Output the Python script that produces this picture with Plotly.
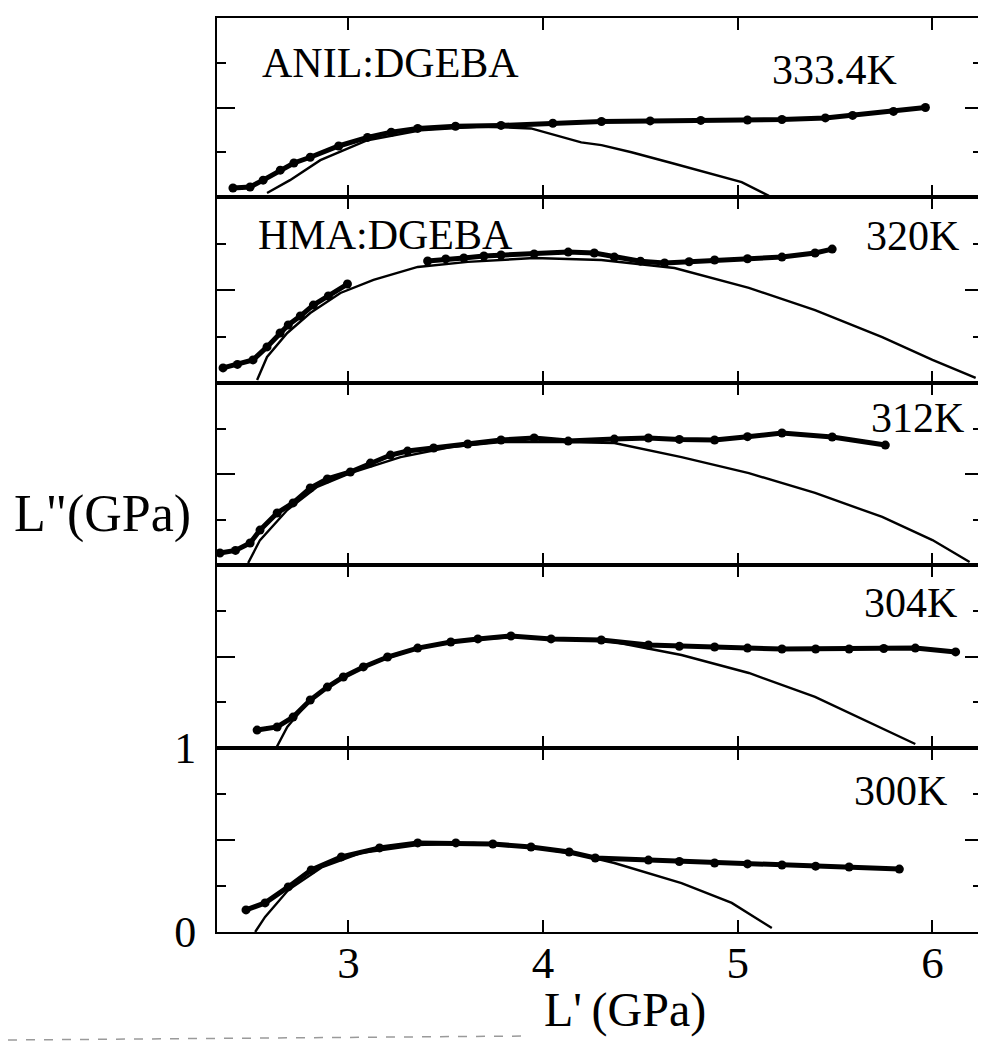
import plotly.graph_objects as go
from plotly.subplots import make_subplots

# ---------------- data ----------------
panel_labels = ["333.4K", "320K", "312K", "304K", "300K"]
system_labels = ["ANIL:DGEBA", "HMA:DGEBA", "", "", ""]

# 333.4K  (ANIL:DGEBA)
d333_x = [2.407, 2.495, 2.562, 2.65, 2.72, 2.804, 2.95, 3.098, 3.22, 3.356, 3.55, 3.784, 4.05, 4.30, 4.55, 4.81, 5.05, 5.227, 5.45, 5.59, 5.80, 5.964]
d333_y = [0.050, 0.056, 0.094, 0.150, 0.190, 0.222, 0.285, 0.333, 0.362, 0.383, 0.395, 0.400, 0.412, 0.422, 0.425, 0.428, 0.430, 0.433, 0.442, 0.456, 0.478, 0.500]
f333_x = [2.582, 2.70, 2.856, 3.098, 3.371, 3.68, 3.938, 4.196, 4.30, 4.454, 4.66, 5.02, 5.16]
f333_y = [0.022, 0.094, 0.206, 0.317, 0.372, 0.394, 0.383, 0.305, 0.290, 0.250, 0.190, 0.083, 0.006]

# 320K  (HMA:DGEBA)
d320_x = [2.356, 2.43, 2.510, 2.582, 2.649, 2.691, 2.753, 2.820, 2.897, 2.995, None, 3.407, 3.50, 3.593, 3.696, 3.784, 3.954, 4.129, 4.263, 4.366, 4.50, 4.624, 4.75, 4.881, 5.05, 5.227, 5.397, 5.485]
d320_y = [0.081, 0.100, 0.124, 0.194, 0.269, 0.312, 0.360, 0.419, 0.468, 0.532, None, 0.656, 0.667, 0.672, 0.683, 0.688, 0.694, 0.704, 0.699, 0.677, 0.655, 0.645, 0.652, 0.661, 0.668, 0.677, 0.699, 0.720]
f320_x = [2.531, 2.582, 2.686, 2.804, 2.959, 3.129, 3.356, 3.613, 3.954, 4.299, 4.675, 5.057, 5.397, 5.742, 6.0, 6.222]
f320_y = [0.016, 0.140, 0.269, 0.376, 0.484, 0.554, 0.624, 0.651, 0.672, 0.661, 0.618, 0.511, 0.392, 0.247, 0.124, 0.027]

# 312K
d312_x = [2.34, 2.42, 2.495, 2.546, 2.634, 2.716, 2.804, 2.892, 3.01, 3.113, 3.216, 3.304, 3.438, 3.613, 3.784, 3.954, 4.129, 4.366, 4.541, 4.70, 4.881, 5.05, 5.227, 5.485, 5.758]
d312_y = [0.066, 0.080, 0.121, 0.192, 0.286, 0.341, 0.423, 0.473, 0.511, 0.560, 0.604, 0.626, 0.643, 0.665, 0.687, 0.698, 0.681, 0.692, 0.698, 0.690, 0.687, 0.705, 0.725, 0.703, 0.659]
f312_x = [2.485, 2.546, 2.686, 2.840, 3.01, 3.268, 3.526, 3.784, 4.129, 4.366, 4.711, 5.057, 5.397, 5.742, 6.0, 6.191]
f312_y = [0.011, 0.137, 0.302, 0.429, 0.505, 0.593, 0.648, 0.676, 0.676, 0.670, 0.593, 0.505, 0.396, 0.264, 0.137, 0.016]

# 304K
d304_x = [2.531, 2.634, 2.716, 2.804, 2.892, 2.974, 3.077, 3.201, 3.356, 3.526, 3.665, 3.835, 4.041, 4.299, 4.541, 4.70, 4.881, 5.05, 5.227, 5.40, 5.572, 5.75, 5.912, 6.119]
d304_y = [0.098, 0.115, 0.169, 0.262, 0.333, 0.388, 0.443, 0.497, 0.546, 0.579, 0.596, 0.612, 0.596, 0.590, 0.563, 0.556, 0.552, 0.546, 0.541, 0.541, 0.541, 0.544, 0.546, 0.525]
f304_x = [2.629, 2.686, 2.789, 2.923, 3.098, 3.356, 3.613, 3.871, 4.129, 4.366, 4.711, 5.057, 5.397, 5.742, 5.912]
f304_y = [0.000, 0.115, 0.246, 0.355, 0.454, 0.546, 0.590, 0.607, 0.596, 0.579, 0.508, 0.410, 0.279, 0.109, 0.022]

# 300K
d300_x = [2.474, 2.572, 2.691, 2.809, 2.964, 3.160, 3.356, 3.552, 3.742, 3.938, 4.134, 4.268, 4.541, 4.70, 4.881, 5.05, 5.227, 5.40, 5.572, 5.830]
d300_y = [0.120, 0.158, 0.245, 0.337, 0.408, 0.457, 0.484, 0.484, 0.478, 0.462, 0.435, 0.402, 0.391, 0.383, 0.375, 0.370, 0.364, 0.358, 0.353, 0.342]
f300_x = [2.521, 2.572, 2.691, 2.866, 3.062, 3.356, 3.644, 3.938, 4.196, 4.366, 4.711, 4.969, 5.175]
f300_y = [0.000, 0.082, 0.228, 0.353, 0.429, 0.473, 0.484, 0.462, 0.418, 0.375, 0.266, 0.158, 0.022]

data_x = [d333_x, d320_x, d312_x, d304_x, d300_x]
data_y = [d333_y, d320_y, d312_y, d304_y, d300_y]
fit_x = [f333_x, f320_x, f312_x, f304_x, f300_x]
fit_y = [f333_y, f320_y, f312_y, f304_y, f300_y]

x_ticks = [3, 4, 5, 6]
y_label_vals = [0, 0.5, 1]
y_label_text = ["0", "", "1"]

# ---------------- figure ----------------
# The page body keeps the browser's default 8px margin, so the figure is
# drawn at (8, 8) and may only be 970px wide; sizes below compensate.
OFF = 8
W, H = 970, 1034
PLOT_L, PLOT_R, PLOT_T, PLOT_B = 217, 978, 18, 932   # page pixels
ML = PLOT_L - OFF
MR = (OFF + W) - PLOT_R
MT = PLOT_T - OFF
MB = (OFF + H) - PLOT_B
FONT = "Liberation Serif"
XR = [2.325, 6.234]

fig = make_subplots(rows=5, cols=1, shared_xaxes=True, vertical_spacing=0,
                    row_heights=[179, 186, 182, 183, 184])

for i in range(5):
    r = i + 1
    fig.add_trace(go.Scatter(x=fit_x[i], y=fit_y[i], mode="lines",
                             line=dict(color="black", width=2.4),
                             showlegend=False, hoverinfo="skip"), row=r, col=1)
    fig.add_trace(go.Scatter(x=data_x[i], y=data_y[i], mode="lines+markers",
                             line=dict(color="black", width=5),
                             marker=dict(color="black", size=9),
                             connectgaps=False,
                             showlegend=False, hoverinfo="skip"), row=r, col=1)

    fig.update_xaxes(row=r, col=1, range=XR, tickvals=x_ticks,
                     ticks="inside", ticklen=12, tickwidth=2, tickcolor="black",
                     showline=True, linewidth=2, linecolor="black", mirror="ticks",
                     showgrid=False, zeroline=False, automargin=False,
                     showticklabels=(r == 5), ticklabelstandoff=-10,
                     tickfont=dict(family=FONT, size=45, color="black"))
    fig.update_yaxes(row=r, col=1, range=[0, 1],
                     tickvals=(y_label_vals if r == 5 else [0.5]),
                     ticktext=(y_label_text if r == 5 else None),
                     ticks="inside", ticklen=18, tickwidth=2, tickcolor="black",
                     minor=dict(tickvals=[0.25, 0.75], ticks="inside", ticklen=9,
                                tickwidth=2, tickcolor="black", showgrid=False),
                     showline=True, linewidth=2, linecolor="black", mirror=False,
                     showgrid=False, zeroline=False, automargin=False,
                     showticklabels=(r == 5), ticklabelstandoff=10,
                     tickfont=dict(family=FONT, size=44, color="black"))

# right-hand tick marks (the right frame edge lies beyond the picture)
for i in range(5):
    r = i + 1
    base = "" if r == 1 else str(r)
    new_id = 5 + r
    fig.add_trace(go.Scatter(x=[], y=[], xaxis="x" + base, yaxis="y" + str(new_id),
                             showlegend=False, hoverinfo="skip"))
    fig.layout["yaxis" + str(new_id)] = dict(
        overlaying="y" + base, anchor="x" + base, side="right", range=[0, 1],
        tickvals=[0.5], ticks="inside", ticklen=13, tickwidth=2, tickcolor="black",
        minor=dict(tickvals=[0.25, 0.75], ticks="inside", ticklen=5, tickwidth=2,
                   tickcolor="black", showgrid=False),
        showline=False, linewidth=0, showgrid=False, zeroline=False,
        showticklabels=False, automargin=False)

pw = PLOT_R - PLOT_L
ph = PLOT_B - PLOT_T


def px2paper(px, py):
    return (px - PLOT_L) / pw, (PLOT_B - py) / ph


annos = []
label_pos = [(390, 63), (385, 235), None, None, None]
temp_pos = [(834, 70), (912, 236), (917, 418), (910, 603), (900, 791)]
for i in range(5):
    if system_labels[i]:
        ax, ay = px2paper(*label_pos[i])
        annos.append(dict(x=ax, y=ay, text=system_labels[i]))
    tx, ty = px2paper(*temp_pos[i])
    annos.append(dict(x=tx, y=ty, text=panel_labels[i]))

for a in annos:
    a.update(xref="paper", yref="paper", xanchor="center", yanchor="middle",
             showarrow=False, font=dict(family=FONT, size=42, color="black"))

yx, yy = px2paper(102, 514)
xx, xy = px2paper(625, 1010)
annos.append(dict(x=yx, y=yy, xref="paper", yref="paper", text='L"(GPa)',
                  showarrow=False, xanchor="center", yanchor="middle",
                  font=dict(family=FONT, size=52, color="black")))
annos.append(dict(x=xx, y=xy, xref="paper", yref="paper", text="L'\u2009(GPa)",
                  showarrow=False, xanchor="center", yanchor="middle",
                  font=dict(family=FONT, size=48, color="black")))

# faint dashed scan line at the bottom of the page
x0, y0 = px2paper(OFF, 1040)
x1, y1 = px2paper(530, 1036)
fig.add_shape(type="line", xref="paper", yref="paper", x0=x0, y0=y0, x1=x1, y1=y1,
              line=dict(color="#9a9a9a", width=1.5, dash="dash"))

fig.update_layout(width=W, height=H,
                  margin=dict(l=ML, r=MR, t=MT, b=MB, autoexpand=False),
                  paper_bgcolor="white", plot_bgcolor="white",
                  annotations=annos, showlegend=False,
                  font=dict(family=FONT, color="black"))

fig.write_html("out.html")
